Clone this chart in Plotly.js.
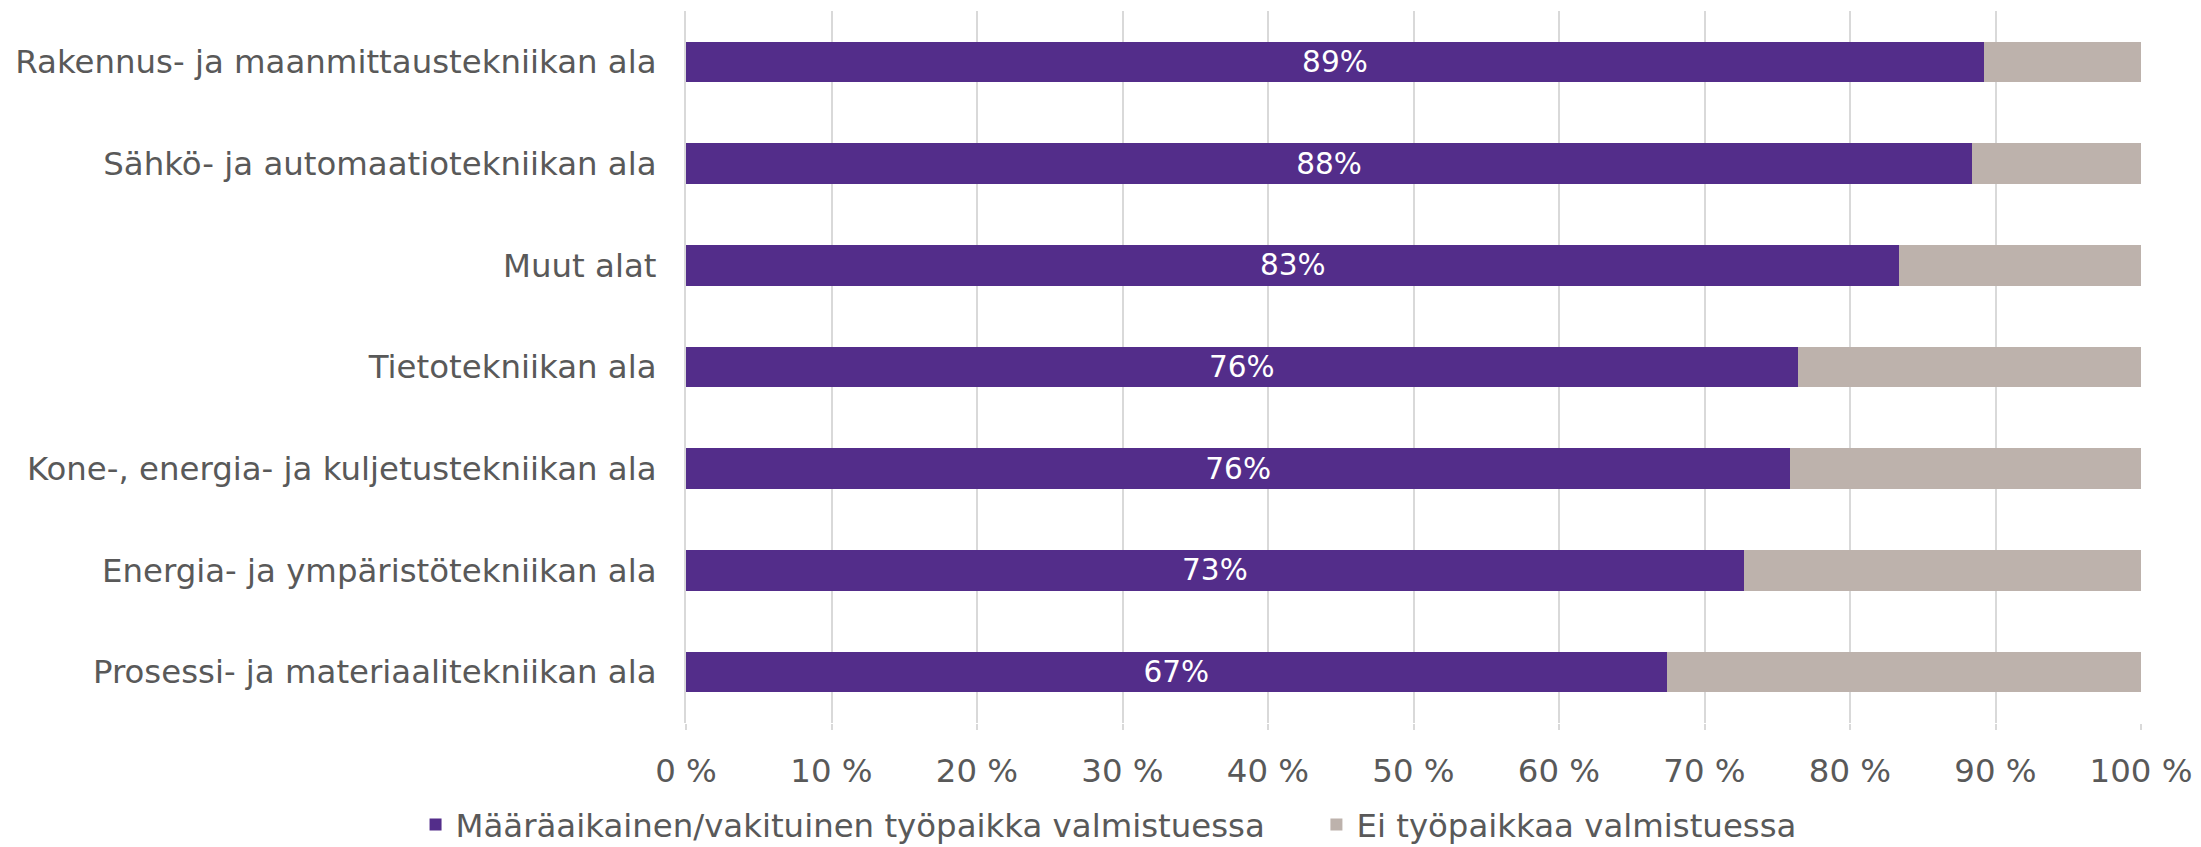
<!DOCTYPE html>
<html>
<head>
<meta charset="utf-8">
<script src="https://cdn.plot.ly/plotly-3.0.1.min.js"></script>
<style>html,body{margin:0;padding:0;background:#fff;}#chart{width:2201px;height:847px;}</style>
</head>
<body>
<div id="chart"></div>
<script>
const categories = [
  "Rakennus- ja maanmittaustekniikan ala",
  "Sähkö- ja automaatiotekniikan ala",
  "Muut alat",
  "Tietotekniikan ala",
  "Kone-, energia- ja kuljetustekniikan ala",
  "Energia- ja ympäristötekniikan ala",
  "Prosessi- ja materiaalitekniikan ala"
];
const seriesNames = ["Määräaikainen/vakituinen työpaikka valmistuessa", "Ei työpaikkaa valmistuessa"];
const employed = [89.2, 88.4, 83.4, 76.4, 75.9, 72.7, 67.4];
const notEmployed = [10.8, 11.6, 16.6, 23.6, 24.1, 27.3, 32.6];
const tickValues = [0, 10, 20, 30, 40, 50, 60, 70, 80, 90, 100];
const tickLabels = ["0 %", "10 %", "20 %", "30 %", "40 %", "50 %", "60 %", "70 %", "80 %", "90 %", "100 %"];

const FONT = "DejaVu Sans, Verdana, sans-serif";
const TXT = "#595959";
const FS = 32.4;

const traces = [
  {
    type: "bar", orientation: "h", name: seriesNames[0],
    y: categories, x: employed,
    marker: {color: "#532D8A"},
    texttemplate: "%{x:.0f}%", textposition: "inside", insidetextanchor: "middle",
    textfont: {family: FONT, size: FS, color: "#ffffff"},
    hoverinfo: "skip", legend: "legend"
  },
  {
    type: "bar", orientation: "h", name: seriesNames[1],
    y: categories, x: notEmployed,
    marker: {color: "#BDB2AC"},
    textposition: "none",
    hoverinfo: "skip", legend: "legend2"
  }
];

const legendBase = {
  orientation: "h", xref: "container", yref: "container",
  xanchor: "left", y: 0.026, yanchor: "middle",
  font: {family: FONT, size: FS, color: TXT},
  itemwidth: 30, bgcolor: "rgba(0,0,0,0)", borderwidth: 0
};

const layout = {
  width: 2201, height: 847,
  margin: {l: 686, r: 60, t: 11, b: 124},
  paper_bgcolor: "#ffffff", plot_bgcolor: "#ffffff",
  barmode: "stack", bargap: 0.6,
  font: {family: FONT, size: FS, color: TXT},
  showlegend: true,
  legend: Object.assign({}, legendBase, {x: 0.1888}),
  legend2: Object.assign({}, legendBase, {x: 0.5981}),
  xaxis: {
    range: [0, 100], tickvals: tickValues, ticktext: tickLabels,
    showgrid: true, gridcolor: "#D9D9D9", gridwidth: 2,
    zeroline: false, showline: false,
    ticks: "outside", ticklen: 6, tickcolor: "#D9D9D9", tickwidth: 2,
    ticklabelstandoff: 13,
    tickfont: {family: FONT, size: FS, color: TXT},
    fixedrange: true
  },
  yaxis: {
    autorange: "reversed", type: "category",
    showgrid: false, zeroline: false, showline: true, linecolor: "#D9D9D9", linewidth: 2,
    ticks: "", ticklabelstandoff: 21,
    tickfont: {family: FONT, size: FS, color: TXT},
    fixedrange: true
  }
};

Plotly.newPlot("chart", traces, layout, {staticPlot: true, displayModeBar: false});
</script>
</body>
</html>
